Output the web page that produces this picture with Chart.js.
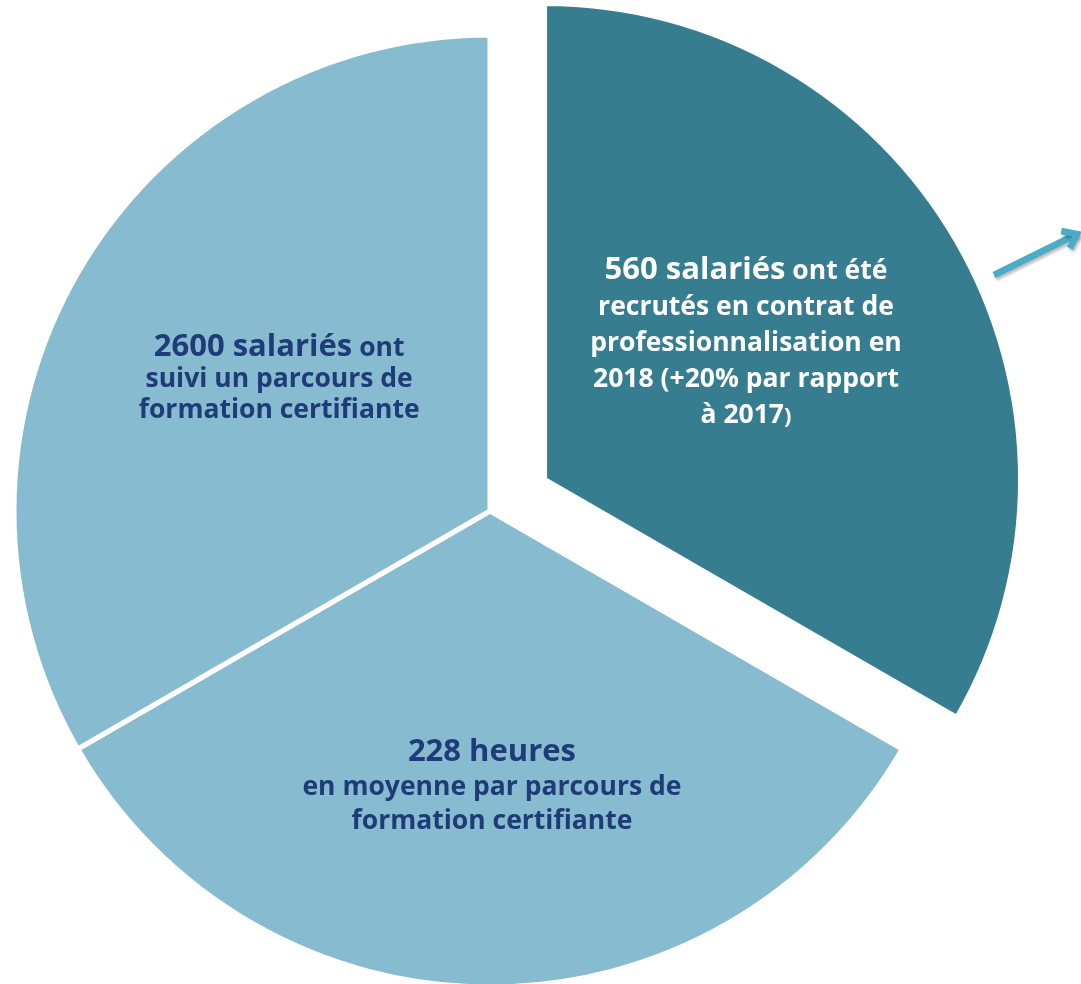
<!DOCTYPE html>
<html lang="fr">
<head>
<meta charset="utf-8">
<title>Contrats de professionnalisation et formation certifiante</title>
<script src="https://cdn.jsdelivr.net/npm/chart.js@4/dist/chart.umd.min.js"></script>
<style>
  html, body { margin: 0; padding: 0; background: #ffffff; overflow: hidden; }
  canvas { display: block; }
</style>
</head>
<body>
<canvas id="c" width="1081" height="984"></canvas>
<script>
// ---- Data (three equal thirds) ----
const categories = ["Contrats de professionnalisation", "Heures par parcours", "Parcours certifiants"];
const shares = [1, 1, 1];
const sliceColors = ["#367d8f", "#87bbcf", "#87bbcf"];
const explodeShift = [63, 0, 0];

// Label texts: each line is a list of [text, style] segments
const labelLines = [
  [
    [["560 salariés", "big"], [" ont été", "small"]],
    [["recrutés en contrat de", "small"]],
    [["professionnalisation en", "small"]],
    [["2018 (+20% par rapport", "small"]],
    [["à 2017", "small"], [")", "tiny"]]
  ],
  [
    [["228 heures", "big"]],
    [["en moyenne par parcours de", "small"]],
    [["formation certifiante", "small"]]
  ],
  [
    [["2600 salariés", "big"], [" ont", "small"]],
    [["suivi un parcours de", "small"]],
    [["formation certifiante", "small"]]
  ]
];
const labelColors = ["#ffffff", "#1f3b78", "#1f3b78"];

// ---- Styling / placement (not data) ----
const FONT = "'Open Sans', Lato, sans-serif";
const fontSizes = { big: 31, small: 26.5, tiny: 22 };
const labelLineHeight = [36, 34, 31];
const labelRadiusFrac = [0.511, 0.579, 0.523];
const labelAngleNudgeDeg = [-4.1, -0.4, 2.1];

function segFont(style) { return "bold " + fontSizes[style] + "px " + FONT; }

const explodePlugin = {
  id: "explode",
  afterUpdate(chart) {
    const meta = chart.getDatasetMeta(0);
    meta.data.forEach((arc, i) => {
      const shift = explodeShift[i] || 0;
      if (!shift || arc.__wrapped) return;
      const orig = arc.draw;
      arc.draw = function (ctx, area) {
        const mid = (this.startAngle + this.endAngle) / 2;
        ctx.save();
        ctx.translate(Math.cos(mid) * shift, Math.sin(mid) * shift);
        orig.call(this, ctx, area);
        ctx.restore();
      };
      arc.__wrapped = true;
    });
  }
};

const labelPlugin = {
  id: "sliceLabels",
  afterDatasetsDraw(chart) {
    const ctx = chart.ctx;
    const meta = chart.getDatasetMeta(0);
    meta.data.forEach((arc, i) => {
      const p = arc.getProps(["x", "y", "startAngle", "endAngle", "outerRadius"], true);
      const mid = (p.startAngle + p.endAngle) / 2;
      const shift = explodeShift[i] || 0;
      const cx = p.x + Math.cos(mid) * shift;
      const cy = p.y + Math.sin(mid) * shift;
      const a = mid + labelAngleNudgeDeg[i] * Math.PI / 180;
      const r = p.outerRadius * labelRadiusFrac[i];
      const ax = cx + Math.cos(a) * r;
      const ay = cy + Math.sin(a) * r;
      const lines = labelLines[i];
      const lh = labelLineHeight[i];
      let y = ay + 8 - (lines.length - 1) * lh / 2;
      ctx.save();
      ctx.fillStyle = labelColors[i];
      ctx.textBaseline = "alphabetic";
      ctx.textAlign = "left";
      lines.forEach(segs => {
        let total = 0;
        segs.forEach(([t, s]) => { ctx.font = segFont(s); total += ctx.measureText(t).width; });
        let x = ax - total / 2;
        segs.forEach(([t, s]) => {
          ctx.font = segFont(s);
          ctx.fillText(t, x, y);
          x += ctx.measureText(t).width;
        });
        y += lh;
      });
      ctx.restore();
    });
  }
};

const arrowPlugin = {
  id: "arrow",
  afterDraw(chart) {
    const ctx = chart.ctx;
    const x0 = 994, y0 = 275, x1 = 1077, y1 = 234;
    ctx.save();
    ctx.strokeStyle = "#4aadc7";
    ctx.lineWidth = 6.5;
    ctx.lineCap = "butt";
    ctx.lineJoin = "miter";
    ctx.shadowColor = "rgba(0,0,0,0.28)";
    ctx.shadowBlur = 3;
    ctx.shadowOffsetX = 1.5;
    ctx.shadowOffsetY = 2.5;
    ctx.beginPath();
    ctx.moveTo(x0, y0);
    ctx.lineTo(x1, y1);
    ctx.stroke();
    const ang = Math.atan2(y1 - y0, x1 - x0);
    const hl = 16;
    ctx.beginPath();
    ctx.moveTo(x1 + Math.cos(ang + Math.PI - 0.65) * hl, y1 + Math.sin(ang + Math.PI - 0.65) * hl);
    ctx.lineTo(x1, y1);
    ctx.lineTo(x1 + Math.cos(ang + Math.PI + 0.65) * hl, y1 + Math.sin(ang + Math.PI + 0.65) * hl);
    ctx.stroke();
    ctx.restore();
  }
};

new Chart(document.getElementById("c"), {
  type: "pie",
  data: {
    labels: categories,
    datasets: [{
      data: shares,
      backgroundColor: sliceColors,
      borderColor: "#ffffff",
      borderWidth: 5,
      clip: false
    }]
  },
  options: {
    responsive: false,
    animation: false,
    radius: 476,
    layout: { padding: { left: 0, right: 101, top: 38, bottom: 0 } },
    plugins: {
      legend: { display: false },
      tooltip: { enabled: false }
    },
    events: []
  },
  plugins: [explodePlugin, labelPlugin, arrowPlugin]
});
</script>
</body>
</html>
